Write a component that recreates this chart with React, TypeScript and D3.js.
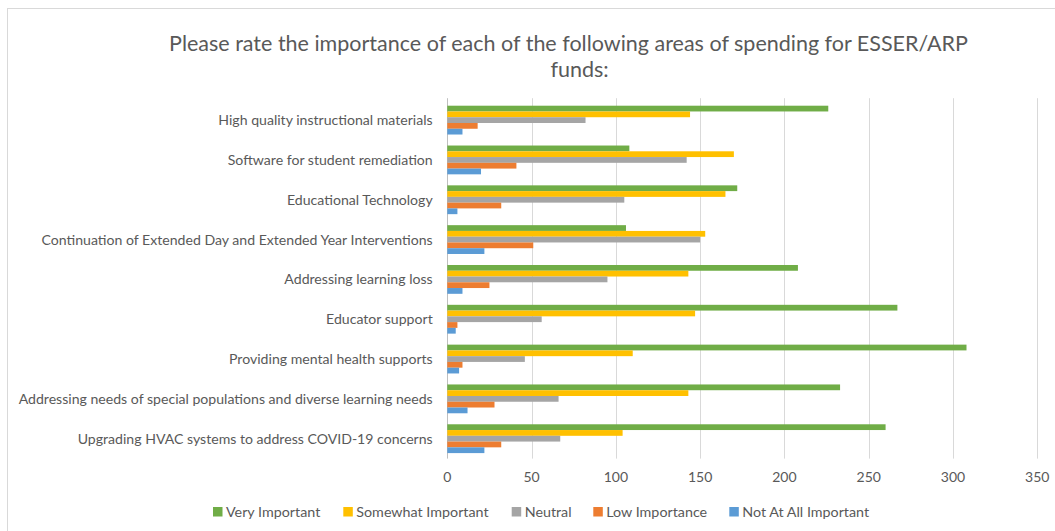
import React from "react";
import * as d3 from "d3";

const categories = [
  "High quality instructional materials",
  "Software for student remediation",
  "Educational Technology",
  "Continuation of Extended Day and Extended Year Interventions",
  "Addressing learning loss",
  "Educator support",
  "Providing mental health supports",
  "Addressing needs of special populations and diverse learning needs",
  "Upgrading HVAC systems to address COVID-19 concerns",
];

const seriesNames = [
  "Very Important",
  "Somewhat Important",
  "Neutral",
  "Low Importance",
  "Not At All Important",
];

const veryImportant = [226, 108, 172, 106, 208, 267, 308, 233, 260];
const somewhatImportant = [144, 170, 165, 153, 143, 147, 110, 143, 104];
const neutral = [82, 142, 105, 150, 95, 56, 46, 66, 67];
const lowImportance = [18, 41, 32, 51, 25, 6, 9, 28, 32];
const notAtAllImportant = [9, 20, 6, 22, 9, 5, 7, 12, 22];

const xTicks = [0, 50, 100, 150, 200, 250, 300, 350];

const colors = ["#70AD47", "#FFC000", "#A5A5A5", "#ED7D31", "#5B9BD5"];

const seriesValues = [veryImportant, somewhatImportant, neutral, lowImportance, notAtAllImportant];

export default function App() {
  const W = 1055;
  const H = 531;
  const left = 447.3;
  const right = 1037.3;
  const top = 100.2;
  const bottom = 458.6;
  const font = "Lato, 'Open Sans', sans-serif";
  const textColor = "#595959";

  const x = d3.scaleLinear().domain([0, 350]).range([left, right]);
  const y0 = d3.scaleBand<string>().domain(categories).range([top, bottom]).paddingInner(11 / 39.8).paddingOuter(5.5 / 39.8);
  const y1 = d3.scaleBand<string>().domain(seriesNames).range([0, y0.bandwidth()]);

  const legendX = [213, 343.3, 511.7, 593.3, 729.3];

  return (
    <svg width={W} height={H} style={{ position: "absolute", left: 0, top: 0, background: "#fff" }} fontFamily={font}>
      <rect x={0} y={0} width={W} height={H} fill="#fff" />
      <rect x={7.5} y={8.5} width={1200} height={700} fill="#fff" stroke="#d9d9d9" strokeWidth={1} />
      <text x={568.5} y={51} textAnchor="middle" fontSize={21.5} fill={textColor}>
        Please rate the importance of each of the following areas of spending for ESSER/ARP
      </text>
      <text x={579.5} y={77} textAnchor="middle" fontSize={21.5} fill={textColor}>
        funds:
      </text>
      {xTicks.map((t) => (
        <g key={t}>
          <line x1={Math.round(x(t)) + 0.5} x2={Math.round(x(t)) + 0.5} y1={top - 2} y2={bottom} stroke={t === 0 ? "#bfbfbf" : "#d9d9d9"} strokeWidth={1} />
          <text x={x(t)} y={482} textAnchor="middle" fontSize={14} fill={textColor}>
            {t}
          </text>
        </g>
      ))}
      {categories.map((c, i) => (
        <g key={c}>
          <text x={432.7} y={(y0(c) as number) + y0.bandwidth() / 2} dy="0.35em" textAnchor="end" fontSize={14.1} fill={textColor}>
            {c}
          </text>
          {seriesNames.map((s, j) => (
            <rect
              key={s}
              x={x(0)}
              y={(y0(c) as number) + (y1(s) as number)}
              width={x(seriesValues[j][i]) - x(0)}
              height={y1.bandwidth()}
              fill={colors[j]}
            />
          ))}
        </g>
      ))}
      {seriesNames.map((s, j) => (
        <g key={s}>
          <rect x={legendX[j]} y={507} width={9.5} height={9.5} fill={colors[j]} />
          <text x={legendX[j] + 13} y={516.5} fontSize={14.3} fill={textColor}>
            {s}
          </text>
        </g>
      ))}
    </svg>
  );
}
